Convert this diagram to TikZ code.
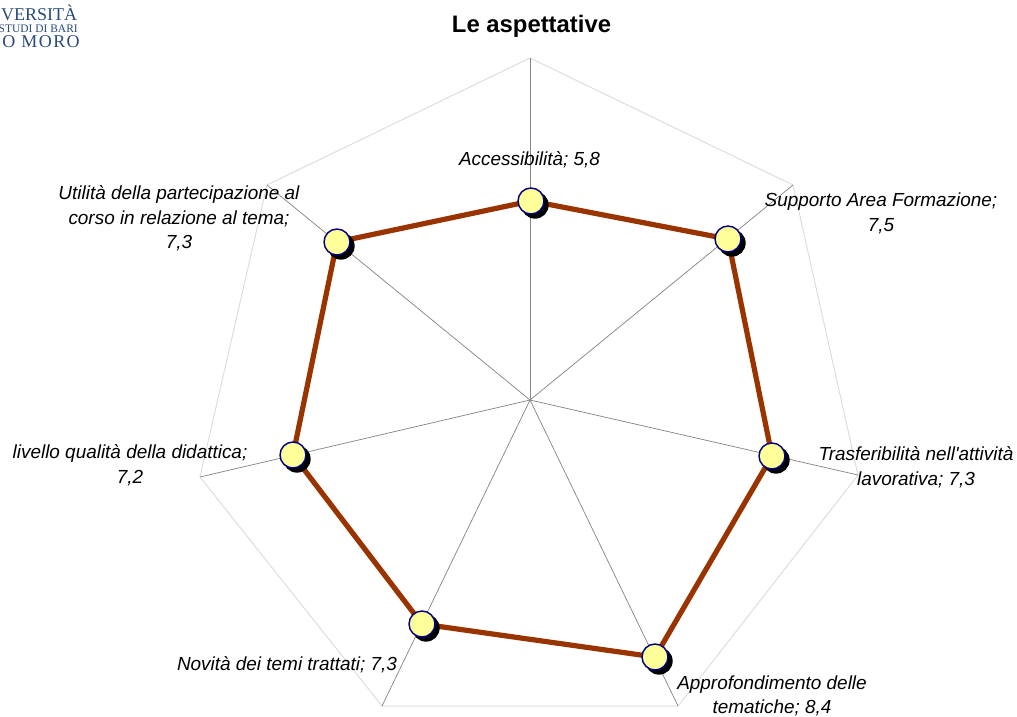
\documentclass[tikz,border=0pt]{standalone}
\usepackage{fontspec}
\setmainfont{Liberation Sans}
\newfontfamily\labfont{Liberation Sans}
\newfontfamily\logofont{Liberation Serif}
\definecolor{logoblue}{HTML}{284A7C}
\definecolor{serie}{HTML}{993300}
\definecolor{marker}{HTML}{FFFF99}
\definecolor{markerline}{HTML}{000080}
\definecolor{spoke}{HTML}{868686}
\definecolor{rim}{HTML}{DDDDDD}
\tikzset{
 x=0.75pt,y=-0.75pt,
 lab/.style={font=\labfont\fontsize{14.2}{18.4}\selectfont\itshape,align=center,inner sep=0,text=black},
 spokeline/.style={draw=spoke,line width=0.55pt},
 rimline/.style={draw=rim,line width=0.75pt},
 serieline/.style={draw=serie,line width=3.9pt,line join=round},
 dot/.style={circle,minimum size=19.5pt,inner sep=0,fill=marker,draw=markerline,line width=1.1pt},
 dotshadow/.style={circle,minimum size=20.5pt,inner sep=0,fill=black},
 logo/.style={anchor=base east,inner sep=0,text=logoblue}
}
\begin{document}
\begin{tikzpicture}
\useasboundingbox (0,0) rectangle (1017,717);
\clip (0,0) rectangle (1017,717);
\coordinate (c) at (530,400);
\coordinate (o0) at (530,58);
\coordinate (o1) at (793,185);
\coordinate (o2) at (858,475);
\coordinate (o3) at (678,706);
\coordinate (o4) at (382,706);
\coordinate (o5) at (200,477);
\coordinate (o6) at (267,185);
\coordinate (p0) at (531,201);
\coordinate (p1) at (728,239);
\coordinate (p2) at (772,456);
\coordinate (p3) at (655,657);
\coordinate (p4) at (422,624);
\coordinate (p5) at (293,455);
\coordinate (p6) at (337,242);
\draw[rimline] (o0)--(o1)--(o2)--(o3)--(o4)--(o5)--(o6)--cycle;
\foreach \n in {o0,o1,o2,o3,o4,o5,o6} \draw[spokeline] (c)--(\n);
\node[font=\bfseries\fontsize{17.9}{20}\selectfont,inner sep=0] (title) at (531.5,26) {Le aspettative};
\node[logo,font=\logofont\fontsize{13.5}{14}\selectfont] (l1) at (77.5,21) {VERSITÀ};
\node[logo,font=\logofont\fontsize{8.6}{10}\selectfont] (l2) at (78,33) {STUDI DI BARI};
\node[logo,font=\logofont\addfontfeature{LetterSpace=8}\fontsize{13.5}{14}\selectfont] (l3) at (80,48) {O MORO};
\node[lab] (t0) at (529.5,159.5) {Accessibilità; 5,8};
\node[lab] (t1) at (881,213.5) {Supporto Area Formazione;\\7,5};
\node[lab] (t2) at (916,467) {Trasferibilità nell'attività\\lavorativa; 7,3};
\node[lab] (t3) at (772,696) {Approfondimento delle\\tematiche; 8,4};
\node[lab] (t4) at (287,664.5) {Novità dei temi trattati; 7,3};
\node[lab] (t5) at (130,465.5) {livello qualità della didattica;\\7,2};
\node[lab] (t6) at (179,218.5) {Utilità della partecipazione al\\corso in relazione al tema;\\7,3};
\draw[serieline] (p0)--(p1)--(p2)--(p3)--(p4)--(p5)--(p6)--cycle;
\foreach \n in {p0,p1,p2,p3,p4,p5,p6}{
  \node[dotshadow] at ([xshift=3pt,yshift=-3pt]\n) {};
  \node[dot] (m\n) at (\n) {};
}
\end{tikzpicture}
\end{document}
